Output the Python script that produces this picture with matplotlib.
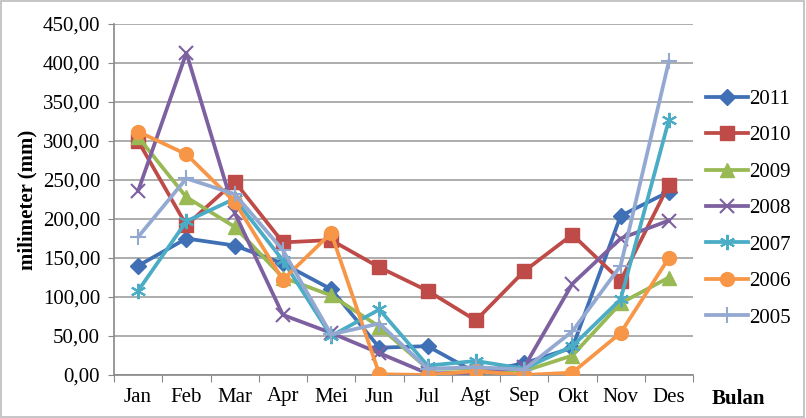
import matplotlib
matplotlib.use("Agg")
import matplotlib.pyplot as plt
from matplotlib.patches import Rectangle
from matplotlib.ticker import FuncFormatter

months = ["Jan", "Feb", "Mar", "Apr", "Mei", "Jun", "Jul", "Agt", "Sep", "Okt", "Nov", "Des"]
s2011 = [140, 175, 166, 143, 110, 35, 37, 3, 15, 35, 204, 235]
s2010 = [300, 192, 248, 170, 173, 138, 108, 70, 133, 180, 121, 244]
s2009 = [305, 228, 190, 125, 102, 62, 8, 8, 5, 25, 92, 125]
s2008 = [236, 413, 208, 77, 54, 28, 2, 3, 10, 117, 175, 198]
s2007 = [108, 197, 226, 147, 50, 84, 12, 18, 8, 37, 97, 327]
s2006 = [312, 283, 222, 122, 182, 1, 0, 5, 0, 3, 54, 150]
s2005 = [177, 252, 232, 160, 52, 66, 8, 10, 7, 56, 140, 402]

series = [
    ("2011", s2011, "#3F6FB5", "D", 8),
    ("2010", s2010, "#BE4B48", "s", 10),
    ("2009", s2009, "#98B954", "^", 10),
    ("2008", s2008, "#7D60A0", "x", 10),
    ("2007", s2007, "#4AACC5", (6, 2, 0), 11),
    ("2006", s2006, "#F79646", "o", 10),
    ("2005", s2005, "#93A9D2", "+", 12),
]

plt.rcParams["font.family"] = ["Liberation Serif", "DejaVu Serif"]
FS = 15

fig = plt.figure(figsize=(8.06, 4.18), dpi=100)
ax = fig.add_axes([114/806, 1-375/418, (693-114)/806, (375-24)/418])

x = list(range(len(months)))
for name, vals, col, mk, ms in series:
    ax.plot(x, vals, color=col, lw=2.7, marker=mk, markersize=ms,
            markeredgewidth=1.5 if mk in ("x", "+", (6, 2, 0)) else 1,
            markeredgecolor=col, markerfacecolor=col, label=name, zorder=3)

ax.set_ylim(0, 450)
ax.set_xlim(-0.5, 11.5)
ax.set_yticks(range(0, 451, 50))
ax.yaxis.set_major_formatter(FuncFormatter(lambda v, p: f"{v:.2f}".replace(".", ",")))
ax.grid(axis="y", color="#A0A0A0", lw=1.2, zorder=0)
ax.set_axisbelow(True)

ax.set_xticks([i - 0.5 for i in range(13)])
ax.set_xticklabels([])
ax.set_xticks(x, minor=True)
ax.set_xticklabels(months, minor=True)
ax.tick_params(axis="x", which="major", length=5, color="#888888", direction="out")
ax.tick_params(axis="x", which="minor", length=0, pad=9, labelsize=FS)
ax.tick_params(axis="y", length=4, color="#888888", labelsize=FS, pad=6)

for sp in ["top", "right"]:
    ax.spines[sp].set_visible(False)
for sp in ["left", "bottom"]:
    ax.spines[sp].set_color("#888888")
    ax.spines[sp].set_linewidth(1.2)

ax.set_ylabel("milimeter (mm)", fontsize=FS, fontweight="bold", labelpad=4)

fig.text(738/806, 1-399/418, "Bulan", fontsize=FS, fontweight="bold", ha="center", va="center")

leg = fig.legend(loc="upper left", bbox_to_anchor=(698/806, 1-81/418), frameon=False,
                 fontsize=FS, labelspacing=0.81, handlelength=2.0, handletextpad=0.05,
                 borderaxespad=0)

fig.patches.append(Rectangle((0.001, 0.002), 0.997, 0.995, transform=fig.transFigure,
                             fill=False, edgecolor="#BBBBBB", lw=1.2))

fig.savefig("out.png", dpi=100)
